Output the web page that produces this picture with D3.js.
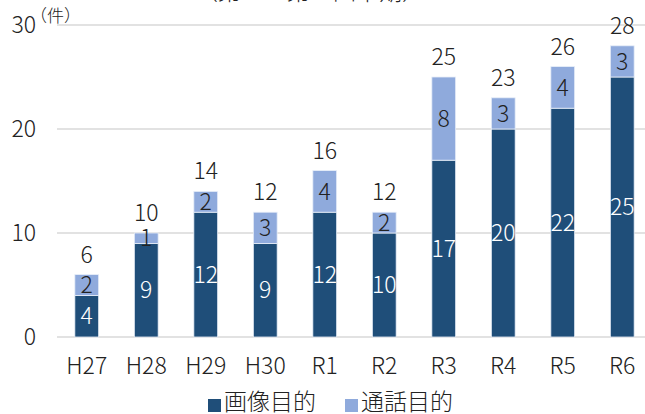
<!DOCTYPE html>
<html lang="ja">
<head>
<meta charset="utf-8">
<script src="https://cdn.jsdelivr.net/npm/d3@7"></script>
<style>
  html, body { margin: 0; padding: 0; background: #fff; }
  svg { display: block; font-family: "Noto Sans CJK JP", "Noto Sans", sans-serif; font-weight: 300; }
</style>
</head>
<body>
<svg id="chart" width="645" height="414"></svg>
<script>
// 年度別件数（画像目的・通話目的）
const years = ["H27", "H28", "H29", "H30", "R1", "R2", "R3", "R4", "R5", "R6"];
const imageCounts = [4, 9, 12, 9, 12, 10, 17, 20, 22, 25];
const callCounts  = [2, 1, 2, 3, 4, 2, 8, 3, 4, 3];
const seriesNames = ["画像目的", "通話目的"];
const yTicks = [0, 10, 20, 30];
const titleText = "（第１～第３四半期）";
const unitText = "（件）";

const fontFamily = '"Noto Sans CJK JP", "Noto Sans", sans-serif';
const colors = { "画像目的": "#1f4e79", "通話目的": "#8faadc" };
const labelColors = { "画像目的": "#ffffff", "通話目的": "#222222" };

const rows = years.map((y, i) => ({ year: y, "画像目的": imageCounts[i], "通話目的": callCounts[i] }));
const stack = d3.stack().keys(seriesNames)(rows);

const svg = d3.select("#chart");
const margin = { left: 57, right: -7, top: 25, bottom: 77 };
const W = 645, H = 414;

const x = d3.scaleBand().domain(years).range([margin.left, W - margin.right]).paddingInner(0.6).paddingOuter(0.3);
const y = d3.scaleLinear().domain([0, 30]).range([H - margin.bottom, margin.top]);

// title (partly above the frame)
svg.append("text")
  .attr("x", 310).attr("y", 0)
  .attr("text-anchor", "middle")
  .attr("font-size", 23).attr("fill", "#222")
  .text(titleText);

// grid lines
svg.append("g").selectAll("line").data(yTicks).join("line")
  .attr("x1", margin.left).attr("x2", 645)
  .attr("y1", d => y(d)).attr("y2", d => y(d))
  .attr("stroke", "#d9d9d9").attr("stroke-width", 1.5);

// y axis labels
const yAxis = d3.axisLeft(y).tickValues(yTicks).tickSize(0).tickPadding(0);
const yg = svg.append("g").attr("transform", "translate(36,0)").call(yAxis)
  .attr("font-family", fontFamily).attr("font-weight", 300);
yg.select(".domain").remove();
yg.selectAll("text").attr("font-size", 23).attr("fill", "#222");

// unit
svg.append("text")
  .attr("x", 30).attr("y", 22)
  .attr("font-size", 17).attr("fill", "#222")
  .text(unitText);

// stacked bars
const layer = svg.append("g").selectAll("g").data(stack).join("g")
  .attr("fill", d => colors[d.key]);
layer.selectAll("rect").data(d => d.map(v => ({ key: d.key, v }))).join("rect")
  .attr("x", d => x(d.v.data.year))
  .attr("width", x.bandwidth())
  .attr("y", d => y(d.v[1]))
  .attr("height", d => y(d.v[0]) - y(d.v[1]))
  .attr("stroke", "#e8eef8").attr("stroke-width", 0.8);

// segment value labels
const segLabels = svg.append("g").selectAll("g").data(stack).join("g");
segLabels.selectAll("text").data(d => d.map(v => ({ key: d.key, v }))).join("text")
  .attr("x", d => x(d.v.data.year) + x.bandwidth() / 2)
  .attr("y", d => (y(d.v[0]) + y(d.v[1])) / 2)
  .attr("dy", "0.36em")
  .attr("text-anchor", "middle")
  .attr("font-size", 23)
  .attr("fill", d => labelColors[d.key])
  .text(d => d.v[1] - d.v[0]);

// totals above bars
svg.append("g").selectAll("text").data(rows).join("text")
  .attr("x", d => x(d.year) + x.bandwidth() / 2)
  .attr("y", d => y(d["画像目的"] + d["通話目的"]) - 12)
  .attr("text-anchor", "middle")
  .attr("font-size", 23).attr("fill", "#222")
  .text(d => d["画像目的"] + d["通話目的"]);

// x axis labels
const xAxis = d3.axisBottom(x).tickSize(0).tickPadding(0);
const xg = svg.append("g").attr("transform", `translate(0,${y(0) + 21})`).call(xAxis)
  .attr("font-family", fontFamily).attr("font-weight", 300);
xg.select(".domain").remove();
xg.selectAll("text").attr("font-size", 23).attr("fill", "#222");

// legend
const legend = svg.append("g");
const legendItems = [{ key: "画像目的", x: 208 }, { key: "通話目的", x: 345 }];
const li = legend.selectAll("g").data(legendItems).join("g")
  .attr("transform", d => `translate(${d.x},0)`);
li.append("rect").attr("x", 0).attr("y", 399).attr("width", 13).attr("height", 13)
  .attr("fill", d => colors[d.key]);
li.append("text").attr("x", 16).attr("y", 402).attr("dy", "0.36em")
  .attr("font-size", 23).attr("fill", "#222")
  .text(d => d.key);
</script>
</body>
</html>
